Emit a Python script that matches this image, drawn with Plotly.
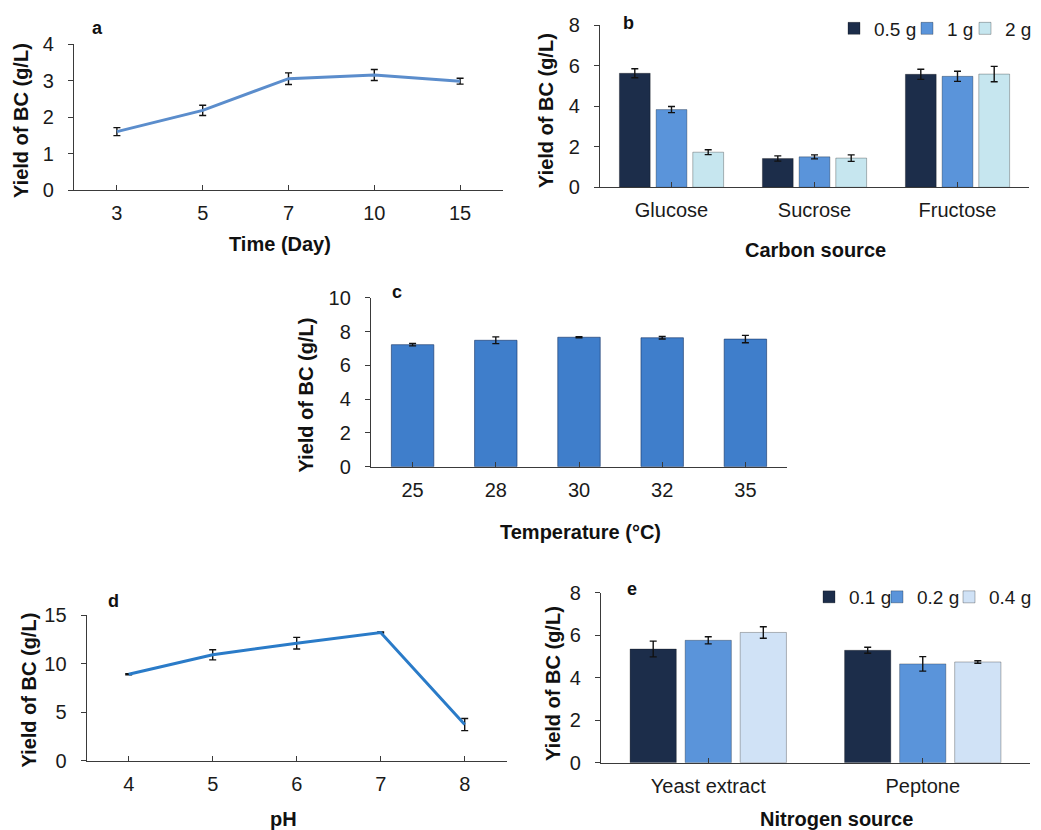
import plotly.graph_objects as go

# ---------------- data ----------------
a_days = ["3", "5", "7", "10", "15"]
a_yield = [1.60, 2.18, 3.05, 3.15, 2.98]
a_err = [0.11, 0.14, 0.16, 0.15, 0.08]

carbon = ["Glucose", "Sucrose", "Fructose"]
carbon_names = ["0.5 g", "1 g", "2 g"]
b_05 = [5.62, 1.42, 5.57]
b_1 = [3.83, 1.50, 5.47]
b_2 = [1.73, 1.44, 5.58]
b_05_err = [0.22, 0.13, 0.25]
b_1_err = [0.15, 0.10, 0.25]
b_2_err = [0.12, 0.16, 0.38]

temps = ["25", "28", "30", "32", "35"]
c_yield = [7.22, 7.48, 7.66, 7.63, 7.55]
c_err = [0.07, 0.20, 0.03, 0.07, 0.22]

ph = ["4", "5", "6", "7", "8"]
d_yield = [8.9, 10.9, 12.1, 13.2, 3.72]
d_err = [0.05, 0.52, 0.60, 0.05, 0.62]

nitrogen = ["Yeast extract", "Peptone"]
nitrogen_names = ["0.1 g", "0.2 g", "0.4 g"]
e_01 = [5.35, 5.29]
e_02 = [5.76, 4.65]
e_04 = [6.13, 4.74]
e_01_err = [0.37, 0.14]
e_02_err = [0.17, 0.34]
e_04_err = [0.27, 0.06]

# ---------------- styling ----------------
PAGE_OFF = 8                      # default body margin of the html page
W, H = 1041 - 2 * PAGE_OFF, 830 - PAGE_OFF
FONT = "Arial, Liberation Sans, sans-serif"
TXT = "#1a1a1a"
AX = "#3a3a3a"
NAVY = "#1c2d4a"
MID = "#5a94da"
LIGHT_B = "#c6e6ef"
LIGHT_E = "#d0e2f6"
CBAR = "#3f7ecb"


def px_x(v):
    return (v - PAGE_OFF) / W


def px_y(v):
    return 1 - (v - PAGE_OFF) / H


def err(vals):
    return dict(type="data", array=vals, visible=True, color="#111111",
                thickness=1.4, width=3.5)


fig = go.Figure()

# panel a
fig.add_trace(go.Scatter(x=a_days, y=a_yield, error_y=err(a_err), mode="lines",
                         line=dict(color="#5b8dcc", width=3), xaxis="x", yaxis="y",
                         showlegend=False))

# panel b
b_legends = ["legend", "legend2", "legend3"]
for name, vals, errs, col, lg in zip(carbon_names, [b_05, b_1, b_2],
                                     [b_05_err, b_1_err, b_2_err], [NAVY, MID, LIGHT_B], b_legends):
    fig.add_trace(go.Bar(x=carbon, y=vals, name=name, error_y=err(errs),
                         marker=dict(color=col, line=dict(color="rgba(0,0,0,0.28)", width=1)),
                         xaxis="x2", yaxis="y2", legend=lg, offsetgroup=name))

# panel c
fig.add_trace(go.Bar(x=temps, y=c_yield, error_y=err(c_err),
                     marker=dict(color=CBAR, line=dict(color="rgba(20,50,100,0.6)", width=1)),
                     xaxis="x3", yaxis="y3", showlegend=False, width=0.51))

# panel d
fig.add_trace(go.Scatter(x=ph, y=d_yield, error_y=err(d_err), mode="lines",
                         line=dict(color="#2a7bc8", width=3), xaxis="x4", yaxis="y4",
                         showlegend=False))

# panel e
e_legends = ["legend4", "legend5", "legend6"]
for name, vals, errs, col, lg in zip(nitrogen_names, [e_01, e_02, e_04],
                                     [e_01_err, e_02_err, e_04_err], [NAVY, MID, LIGHT_E], e_legends):
    fig.add_trace(go.Bar(x=nitrogen, y=vals, name=name, error_y=err(errs),
                         marker=dict(color=col, line=dict(color="rgba(0,0,0,0.28)", width=1)),
                         xaxis="x5", yaxis="y5", legend=lg, offsetgroup="e" + name))

# axis domains in page pixels: (left, right, top, bottom, ymax, n_categories)
panels = {
    "": (74, 503, 44, 190, 4, 5),
    "2": (600, 1029, 25, 187.3, 8, 3),
    "3": (371, 787, 297.7, 466.7, 10, 5),
    "4": (86.7, 506.7, 615, 760.7, 15, 5),
    "5": (601, 1030, 592.7, 762.7, 8, 2),
}
dticks = {"": 1, "2": 2, "3": 2, "4": 5, "5": 2}

layout = dict(width=W, height=H, margin=dict(l=0, r=0, t=0, b=0, autoexpand=False),
              paper_bgcolor="white", plot_bgcolor="white",
              font=dict(family=FONT, color=TXT, size=20),
              barmode="group", showlegend=True)

for k, (l, r, t, b, ymax, n) in panels.items():
    layout["xaxis" + k] = dict(domain=[px_x(l), px_x(r)], anchor="y" + k, type="category",
                               range=[-0.5, n - 0.5], showline=True, linecolor=AX, linewidth=1.3,
                               ticks="inside", ticklen=5, tickcolor=AX, tickwidth=1.2,
                               showgrid=False, zeroline=False, ticklabelstandoff=5,
                               automargin=False,
                               tickfont=dict(size=20, family=FONT, color=TXT))
    layout["yaxis" + k] = dict(domain=[px_y(b), px_y(t)], anchor="x" + k,
                               range=[0, ymax], dtick=dticks[k], showline=True, linecolor=AX,
                               linewidth=1.3, ticks="outside", ticklen=5, tickcolor=AX,
                               tickwidth=1.2, showgrid=False, zeroline=False,
                               ticklabelstandoff=10, automargin=False,
                               tickfont=dict(size=20, family=FONT, color=TXT))

layout["bargap"] = 0.23
layout["bargroupgap"] = 0.16

# one legend per entry so each entry sits where the reference has it
legend_pos = {"legend": (834, 28.5, "left"), "legend2": (907, 28.5, "left"),
              "legend3": (1037, 28.5, "right"),
              "legend4": (809, 597, "left"), "legend5": (877, 597, "left"),
              "legend6": (1037, 597, "right")}
for key, (lx, ly, anc) in legend_pos.items():
    layout[key] = dict(orientation="h", x=px_x(lx), xanchor=anc, y=px_y(ly), yanchor="middle",
                       font=dict(size=19, family=FONT, color=TXT), itemwidth=30,
                       bgcolor="rgba(0,0,0,0)", borderwidth=0)

ann = []
# panel labels
for txt, x, y in [("a", 97.5, 28), ("b", 628, 22.5), ("c", 397, 291.5), ("d", 113, 600.5), ("e", 632, 588.5)]:
    ann.append(dict(text="<b>%s</b>" % txt, x=px_x(x), y=px_y(y), xref="paper", yref="paper",
                    showarrow=False, xanchor="center", yanchor="middle",
                    font=dict(size=18, family=FONT, color="#111")))
# x axis titles
for txt, x, y in [("Time (Day)", 280, 243.5), ("Carbon source", 815, 250), ("Temperature (°C)", 580, 531.5),
                  ("pH", 283, 819), ("Nitrogen source", 836.5, 819)]:
    ann.append(dict(text="<b>%s</b>" % txt, x=px_x(x), y=px_y(y), xref="paper", yref="paper",
                    showarrow=False, xanchor="center", yanchor="middle",
                    font=dict(size=20, family=FONT, color="#111")))
# y axis titles
for x, y in [(21.5, 120.5), (546.5, 110.5), (305, 395.5), (28.5, 690), (553, 684)]:
    ann.append(dict(text="<b>Yield of BC (g/L)</b>", x=px_x(x), y=px_y(y), xref="paper", yref="paper",
                    showarrow=False, xanchor="center", yanchor="middle", textangle=-90,
                    font=dict(size=20, family=FONT, color="#111")))
layout["annotations"] = ann

fig.update_layout(**layout)
fig.write_html("out.html")
